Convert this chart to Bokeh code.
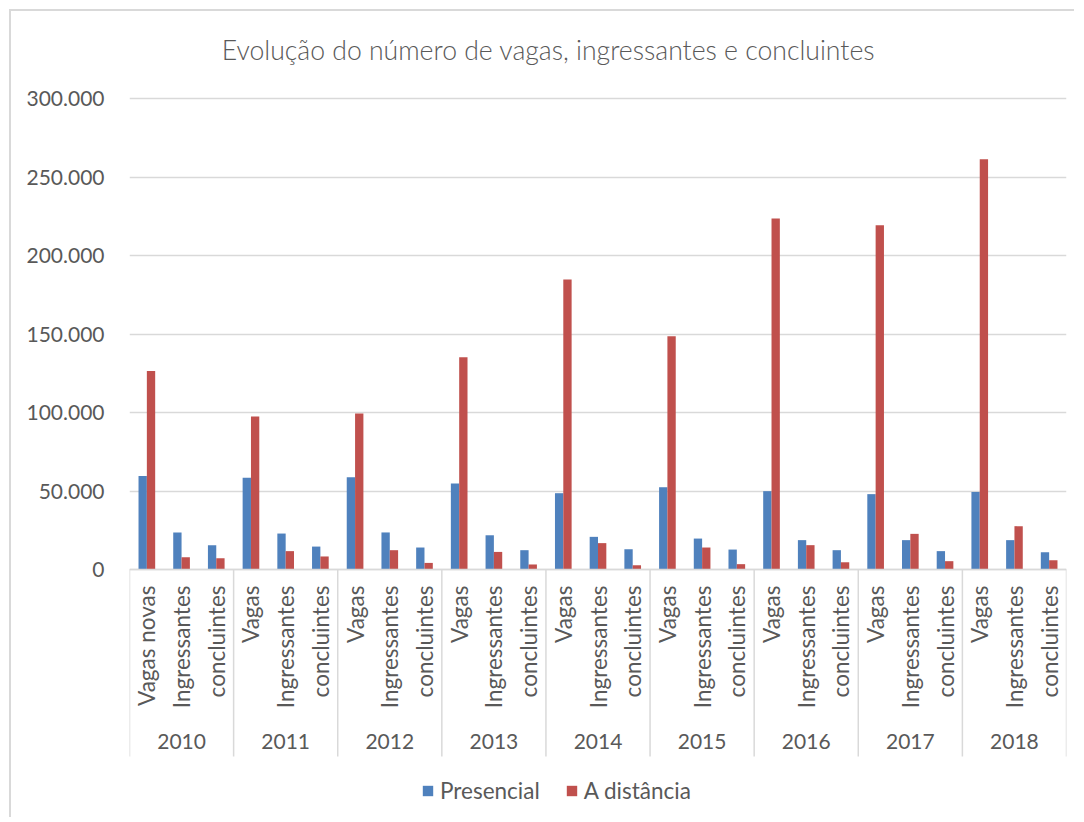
import math
from bokeh.plotting import figure
from bokeh.models import (FactorRange, Range1d, FixedTicker, ColumnDataSource,
                          Legend, LegendItem, Label)
from bokeh.transform import dodge
from bokeh.core.properties import value
from bokeh.embed import file_html
from bokeh.resources import INLINE

# ---------------- data ----------------
years = ["2010", "2011", "2012", "2013", "2014", "2015", "2016", "2017", "2018"]
categories_2010 = ["Vagas novas", "Ingressantes", "concluintes"]
categories = ["Vagas", "Ingressantes", "concluintes"]

presencial = [59500, 23600, 15500,
              58400, 22900, 14600,
              58800, 23600, 14000,
              54800, 21800, 12300,
              48600, 20800, 12900,
              52400, 19700, 12700,
              49900, 18700, 12300,
              48000, 18700, 11700,
              49400, 18700, 11000]
a_distancia = [126500, 7800, 7200,
               97500, 11700, 8300,
               99400, 12300, 4200,
               135200, 11200, 3200,
               184700, 16800, 2700,
               148600, 14000, 3400,
               223600, 15500, 4600,
               219300, 22700, 5300,
               261300, 27600, 5900]
series_names = ["Presencial", "A distância"]
y_ticks = [0, 50000, 100000, 150000, 200000, 250000, 300000]
y_tick_labels = ["0", "50.000", "100.000", "150.000", "200.000", "250.000", "300.000"]
title_text = "Evolução do número de vagas, ingressantes e concluintes"

# ---------------- layout constants ----------------
BLUE = "#4F81BD"
RED = "#C0504D"
GRID = "#D9D9D9"
TXT = "#595959"
FONT = "Lato"
FS = "21px"
FS_CAT = "22.5px"

W, H = 1065, 808
MB_LEFT, MB_RIGHT = 118, 10
TOP_PX = 87                           # canvas top to the 300.000 line
PLOT_PX = 471.0                       # pixels from 0 to 300.000
PX_PER_UNIT = PLOT_PX / y_ticks[-1]
y_end = y_ticks[-1] + TOP_PX / PX_PER_UNIT
y_start = y_end - H / PX_PER_UNIT
SEP_PX = 187                          # separator length below the axis

factors = []
for yr in years:
    cats = categories_2010 if yr == "2010" else categories
    for c in cats:
        factors.append((yr, c))

x_range = FactorRange(*factors, group_padding=0, factor_padding=0, range_padding=0)

p = figure(x_range=x_range, y_range=Range1d(y_start, y_end),
           width=W, height=H, output_backend="svg", toolbar_location=None,
           x_axis_location=None, min_border_left=MB_LEFT, min_border_top=0,
           min_border_right=MB_RIGHT, min_border_bottom=0)
p.title.visible = False
p.outline_line_color = None
p.background_fill_color = "white"
p.border_fill_color = "white"
p.margin = (9, 0, 0, 9)
p.styles = {"border-left": "2px solid #D9D9D9", "border-top": "2px solid #D9D9D9"}

# y axis & grid
p.yaxis.ticker = FixedTicker(ticks=y_ticks)
p.yaxis.major_label_overrides = {t: l for t, l in zip(y_ticks, y_tick_labels)}
p.yaxis.axis_line_color = None
p.yaxis.major_tick_line_color = None
p.yaxis.minor_tick_line_color = None
p.yaxis.major_tick_out = 0
p.yaxis.major_tick_in = 0
p.yaxis.major_label_standoff = 25
p.yaxis.major_label_text_font = FONT
p.yaxis.major_label_text_font_size = FS
p.yaxis.major_label_text_color = TXT
p.ygrid.ticker = FixedTicker(ticks=y_ticks)
p.ygrid.grid_line_color = GRID
p.ygrid.grid_line_width = 1.5
p.xgrid.visible = False

# bars
src = ColumnDataSource(dict(x=factors, presencial=presencial, distancia=a_distancia,
                            cat=[f[1] for f in factors]))
r1 = p.vbar(x=dodge("x", -0.12, range=x_range), top="presencial", width=0.24,
            source=src, fill_color=BLUE, line_color=None)
r2 = p.vbar(x=dodge("x", 0.12, range=x_range), top="distancia", width=0.24,
            source=src, fill_color=RED, line_color=None)

# category axis line and separators
p.segment(x0=[factors[0] + (-0.5,)], x1=[factors[-1] + (0.5,)], y0=[0], y1=[0],
          line_color=GRID, line_width=1.5)
bounds = []
for yr in years:
    cats = categories_2010 if yr == "2010" else categories
    bounds.append((yr, cats[0], -0.5))
bounds.append((years[-1], categories[-1], 0.5))
sep_bottom = -SEP_PX / PX_PER_UNIT
p.segment(x0=bounds, x1=bounds, y0=[0] * len(bounds), y1=[sep_bottom] * len(bounds),
          line_color=GRID, line_width=1.5)

# sub-category labels (rotated)
p.text(x="x", y=0, text="cat", source=src, angle=math.pi / 2, text_align="right",
       text_baseline="middle", y_offset=16, text_font=value(FONT),
       text_font_size=FS_CAT, text_color=TXT)

# year labels
year_centers = []
for yr in years:
    cats = categories_2010 if yr == "2010" else categories
    year_centers.append((yr, cats[1]))
p.text(x=year_centers, y=[0] * len(years), text=years, text_align="center",
       text_baseline="middle", y_offset=172, text_font=value(FONT),
       text_font_size=FS, text_color=TXT)

# legend
legend = Legend(items=[LegendItem(label=series_names[0], renderers=[r1]),
                       LegendItem(label=series_names[1], renderers=[r2])],
                orientation="horizontal", location=(292, 15),
                border_line_color=None, background_fill_alpha=0,
                label_text_font=FONT, label_text_font_size=FS_CAT,
                label_text_color=TXT, glyph_width=13, glyph_height=13,
                label_standoff=6, spacing=25, padding=0, margin=0)
p.add_layout(legend)

# title
p.add_layout(Label(x=419, y=H - 38, x_units="screen", y_units="screen", text=title_text,
                   text_align="center", text_baseline="middle", text_font="Lato Light",
                   text_font_size="26.6px", text_color=TXT))

open("out.html", "w").write(file_html(p, INLINE))
